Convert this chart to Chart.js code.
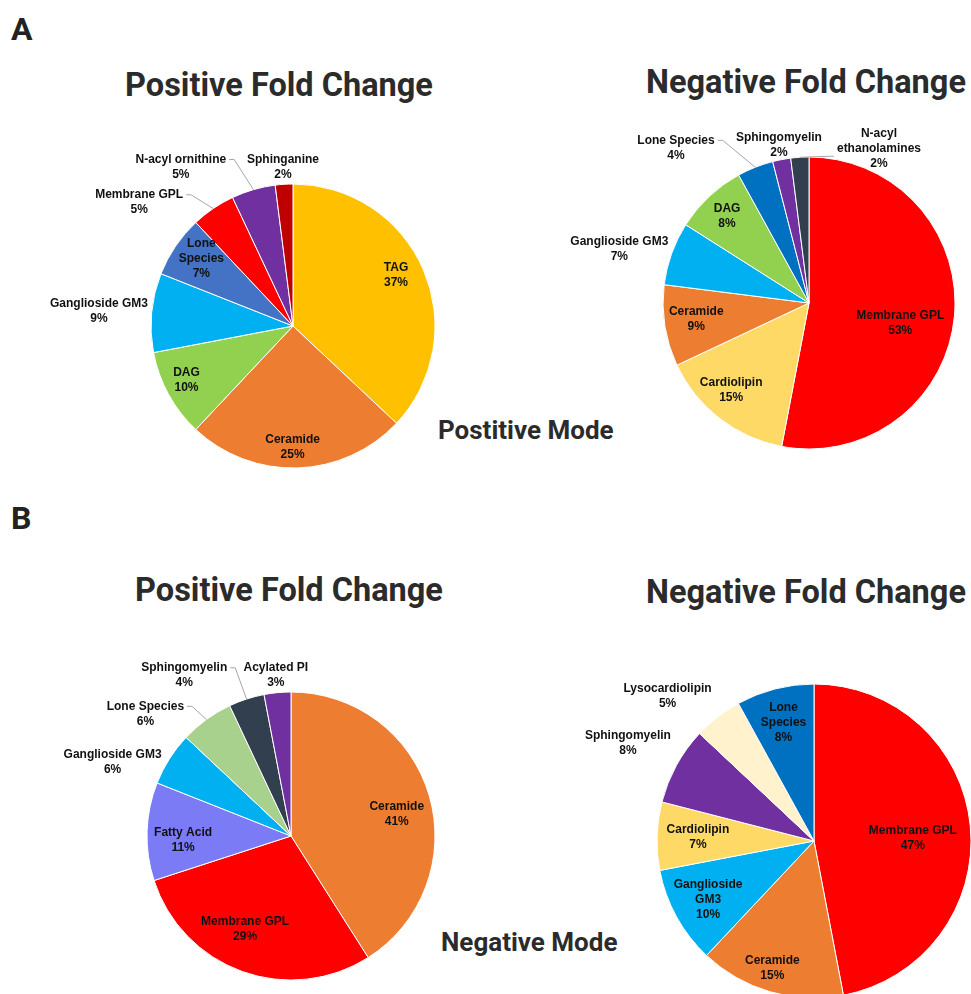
<!DOCTYPE html>
<html>
<head>
<meta charset="utf-8">
<script src="https://cdn.jsdelivr.net/npm/chart.js@4"></script>
<style>
  html, body { margin: 0; padding: 0; background: #fff; overflow: hidden; }
  body { width: 971px; height: 994px; position: relative; font-family: Roboto, "Noto Sans", sans-serif; }
  canvas { position: absolute; }
  .panel { position: absolute; font-weight: 700; font-size: 32px; color: #222; line-height: 32px; }
  .title { position: absolute; font-weight: 700; font-size: 32.5px; color: #2b2b2b; line-height: 32px; width: 400px; text-align: center; white-space: nowrap; }
  .mode { position: absolute; font-weight: 700; font-size: 26px; color: #2b2b2b; line-height: 26px; white-space: nowrap; }
</style>
</head>
<body>
<div class="panel" style="left:11px; top:13px;">A</div>
<div class="panel" style="left:11px; top:502px;">B</div>

<div class="title" style="left:79px; top:69px;">Positive Fold Change</div>
<div class="title" style="left:606px; top:66px;">Negative Fold Change</div>
<div class="title" style="left:89px; top:574px;">Positive Fold Change</div>
<div class="title" style="left:606px; top:576px;">Negative Fold Change</div>

<div class="mode" style="left:438px; top:417px;">Postitive Mode</div>
<div class="mode" style="left:441px; top:929px;">Negative Mode</div>

<canvas id="posUp" width="520" height="520" style="left:33px; top:66px;"></canvas>
<canvas id="posDown" width="520" height="520" style="left:549px; top:43px;"></canvas>
<canvas id="negUp" width="520" height="520" style="left:31px; top:576px;"></canvas>
<canvas id="negDown" width="520" height="520" style="left:554px; top:581px;"></canvas>

<script>
// Positive mode - positive fold change
let posUpLabels = ['TAG', 'Ceramide', 'DAG', 'Ganglioside GM3', 'Lone\nSpecies', 'Membrane GPL', 'N-acyl ornithine', 'Sphinganine'];
let posUpValues = [37, 25, 10, 9, 7, 5, 5, 2];
let posUpColors = ['#FFC000', '#ED7D31', '#92D050', '#00B0F0', '#4472C4', '#FF0000', '#7030A0', '#C00000'];

// Positive mode - negative fold change
let posDownLabels = ['Membrane GPL', 'Cardiolipin', 'Ceramide', 'Ganglioside GM3', 'DAG', 'Lone Species', 'Sphingomyelin', 'N-acyl\nethanolamines'];
let posDownValues = [53, 15, 9, 7, 8, 4, 2, 2];
let posDownColors = ['#FF0000', '#FFD966', '#ED7D31', '#00B0F0', '#92D050', '#0070C0', '#7030A0', '#323F4F'];

// Negative mode - positive fold change
let negUpLabels = ['Ceramide', 'Membrane GPL', 'Fatty Acid', 'Ganglioside GM3', 'Lone Species', 'Sphingomyelin', 'Acylated PI'];
let negUpValues = [41, 29, 11, 6, 6, 4, 3];
let negUpColors = ['#ED7D31', '#FF0000', '#7B7BF5', '#00B0F0', '#A9D18E', '#323F4F', '#7030A0'];

// Negative mode - negative fold change
let negDownLabels = ['Membrane GPL', 'Ceramide', 'Ganglioside\nGM3', 'Cardiolipin', 'Sphingomyelin', 'Lysocardiolipin', 'Lone\nSpecies'];
let negDownValues = [47, 15, 10, 7, 8, 5, 8];
let negDownColors = ['#FF0000', '#ED7D31', '#00B0F0', '#FFD966', '#7030A0', '#FFF2CC', '#0070C0'];

// label placement: [fraction of radius, angle shift in degrees], and leader line side
let posUpPlace = [[0.81, -3], [0.85, 2], [0.84, 2], [1.37, -1], [0.80, 2], [1.39, -17], [1.37, -19], [1.12, 0]];
let posUpLeader = ['', '', '', '', '', 'r', 'r', ''];
let posDownPlace = [[0.64, 7], [0.80, 4], [0.78, 1], [1.35, -4], [0.82, 0], [1.40, -19], [1.10, 0], [1.16, 28]];
let posDownLeader = ['', '', '', '', '', 'r', '', 'l'];
let negUpPlace = [[0.75, 4.5], [0.72, 6.5], [0.75, -4], [1.34, -10], [1.32, -14], [1.34, -15.6], [1.12, 0]];
let negUpLeader = ['', '', '', '', 'r', 'r', ''];
let negDownPlace = [[0.63, 4], [0.85, 2], [0.77, 0], [0.74, 0], [1.34, -1], [1.31, -7.6], [0.78, 0]];
let negDownLeader = ['', '', '', '', '', '', ''];

// writes name + percent next to every slice, with grey leader lines for some outside labels
const sliceLabels = {
    id: 'sliceLabels',
    afterDatasetsDraw(chart, args, opts) {
        const ctx = chart.ctx;
        const meta = chart.getDatasetMeta(0);
        const names = chart.data.labels;
        const values = chart.data.datasets[0].data;
        const lh = 15;
        ctx.save();
        ctx.font = 'bold 12px "Liberation Sans", Arial, sans-serif';
        ctx.textAlign = 'center';
        ctx.textBaseline = 'middle';
        meta.data.forEach(function (arc, i) {
            const p = arc.getProps(['x', 'y', 'startAngle', 'endAngle', 'outerRadius'], true);
            const mid = (p.startAngle + p.endAngle) / 2;
            const ang = mid + opts.place[i][1] * Math.PI / 180;
            const r = p.outerRadius * opts.place[i][0];
            const x = p.x + r * Math.cos(ang);
            const y = p.y + r * Math.sin(ang);
            const lines = names[i].split('\n').concat(values[i] + '%');
            const top = y - (lines.length - 1) * lh / 2;

            if (opts.leader[i]) {
                const ex = p.x + p.outerRadius * Math.cos(mid);
                const ey = p.y + p.outerRadius * Math.sin(mid);
                let sx, sy, step;
                if (opts.leader[i] == 'r') {
                    sx = x + ctx.measureText(lines[0]).width / 2 + 3;
                    sy = top;
                    step = 5;
                } else {
                    const w = Math.max.apply(null, lines.map(function (t) { return ctx.measureText(t).width; }));
                    sx = x - w / 2 - 3;
                    sy = top + lh * 1.5;
                    step = -5;
                }
                ctx.strokeStyle = '#a6a6a6';
                ctx.lineWidth = 1;
                ctx.beginPath();
                ctx.moveTo(sx, sy);
                ctx.lineTo(sx + step, sy);
                ctx.lineTo(ex, ey);
                ctx.stroke();
            }

            ctx.fillStyle = '#111';
            lines.forEach(function (t, k) {
                ctx.fillText(t, x, top + k * lh);
            });
        });
        ctx.restore();
    }
};

function drawPie(id, labels, values, colors, radius, place, leader) {
    return new Chart(document.getElementById(id), {
        type: 'pie',
        data: {
            labels: labels,
            datasets: [{
                data: values,
                backgroundColor: colors,
                borderColor: '#ffffff',
                borderWidth: 1,
                radius: radius
            }]
        },
        options: {
            responsive: false,
            animation: false,
            plugins: {
                legend: { display: false },
                tooltip: { enabled: false },
                sliceLabels: { place: place, leader: leader }
            }
        },
        plugins: [sliceLabels]
    });
}

drawPie('posUp', posUpLabels, posUpValues, posUpColors, 142, posUpPlace, posUpLeader);
drawPie('posDown', posDownLabels, posDownValues, posDownColors, 146, posDownPlace, posDownLeader);
drawPie('negUp', negUpLabels, negUpValues, negUpColors, 144, negUpPlace, negUpLeader);
drawPie('negDown', negDownLabels, negDownValues, negDownColors, 157, negDownPlace, negDownLeader);
</script>
</body>
</html>
